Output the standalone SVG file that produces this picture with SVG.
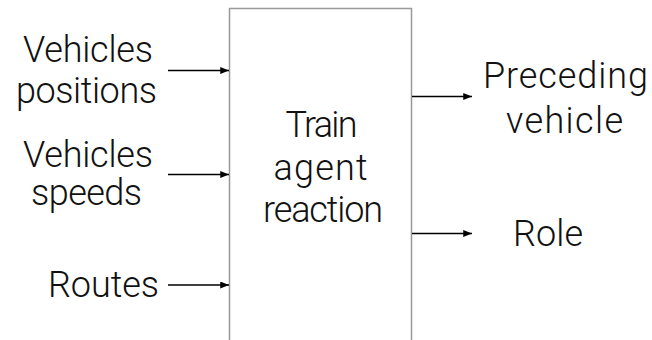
<svg xmlns="http://www.w3.org/2000/svg" width="652" height="340" viewBox="0 0 652 340">
<style>
text{font-family:Roboto,"Liberation Sans",sans-serif;font-weight:300;font-size:36px;fill:#111;text-anchor:middle}
.box{fill:#fff;stroke:#999;stroke-width:1.5}
.conn{stroke:#000;stroke-width:1.6;fill:none;marker-end:url(#ah)}
</style>
<defs>
<marker id="ah" viewBox="0 0 10 8" refX="10" refY="4" markerWidth="9" markerHeight="7" markerUnits="userSpaceOnUse" orient="auto">
<path d="M0,0 L10,4 L0,8 Z" fill="#000"/>
</marker>
</defs>
<rect x="0" y="0" width="652" height="340" fill="#fff"/>
<g id="agent">
<path class="box" d="M229.5,345 V8.5 H411.5 V345"/>
<text x="321.5" y="137" textLength="72" lengthAdjust="spacing">Train</text>
<text x="320.5" y="180" textLength="94" lengthAdjust="spacing">agent</text>
<text x="323" y="222" textLength="120" lengthAdjust="spacing">reaction</text>
</g>
<g id="positions">
<text x="88" y="62" textLength="130" lengthAdjust="spacing">Vehicles</text>
<text x="86.5" y="103" textLength="141" lengthAdjust="spacing">positions</text>
</g>
<g id="speeds">
<text x="88" y="167" textLength="130" lengthAdjust="spacing">Vehicles</text>
<text x="86.5" y="205" textLength="111" lengthAdjust="spacing">speeds</text>
</g>
<g id="routes">
<text x="103.5" y="297" textLength="111" lengthAdjust="spacing">Routes</text>
</g>
<g id="preceding">
<text x="565.5" y="88" textLength="165" lengthAdjust="spacing">Preceding</text>
<text x="564.5" y="133" textLength="117" lengthAdjust="spacing">vehicle</text>
</g>
<g id="role">
<text x="548" y="246" textLength="70" lengthAdjust="spacing">Role</text>
</g>
<g id="connectors">
<line class="conn" x1="168" y1="70.5" x2="229" y2="70.5"/>
<line class="conn" x1="168" y1="174.5" x2="229" y2="174.5"/>
<line class="conn" x1="168" y1="285" x2="229" y2="285"/>
<line class="conn" x1="412" y1="96.5" x2="472" y2="96.5"/>
<line class="conn" x1="412" y1="233.5" x2="472" y2="233.5"/>
</g>
</svg>
